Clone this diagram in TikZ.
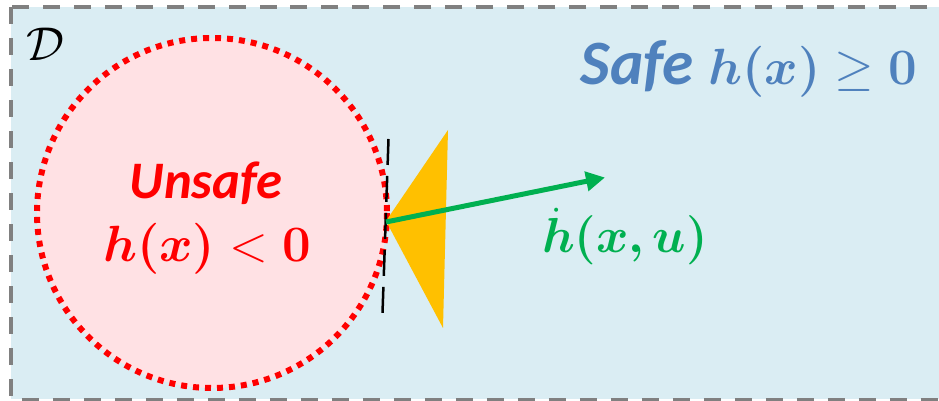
\documentclass[tikz,border=0pt]{standalone}
\usepackage{fix-cm}
\usepackage{fontspec}
\usepackage{bm}
\newfontfamily\calibri{Carlito}
\usetikzlibrary{arrows.meta}
\definecolor{skyfill}{HTML}{DAEDF3}
\definecolor{pinkfill}{HTML}{FFE1E4}
\definecolor{safeblue}{HTML}{4F81BD}
\definecolor{flowgreen}{HTML}{00B050}
\definecolor{coneyellow}{HTML}{FFC000}
\tikzset{
  domainbox/.style={fill=skyfill,draw=gray,line width=0.08cm,dash pattern=on 0.34cm off 0.28cm},
  unsafeset/.style={fill=pinkfill,draw=red,line width=0.12cm,dash pattern=on 0.12cm off 0.12cm},
  tangent/.style={draw=black,line width=0.05cm,dash pattern=on 0.52cm off 0.22cm},
  hdot/.style={draw=flowgreen,line width=0.1cm,-{Triangle[length=0.38cm,width=0.38cm]}},
}
\begin{document}
\begin{tikzpicture}[x=0.02cm,y=-0.02cm]
  \useasboundingbox (0,0) rectangle (939,401);
  \begin{scope}
    \clip (0,0) rectangle (939,401);
    \draw[domainbox] (11,7.5) rectangle (945,399.5);
  \end{scope}
  \draw[unsafeset] (212,213) circle (175);
  % cone of admissible directions
  \fill[coneyellow] (386,221) -- (448,130) -- (443,328) -- cycle;
  \draw[tangent] (388.5,139) -- (382.5,313);
  \coordinate (touch) at (386,222);
  \coordinate (tip) at (605,177.5);
  \draw[hdot] (touch) -- (tip);
  % labels
  \node (dom) at (45,44) {\fontsize{27}{30}\selectfont$\mathcal{D}$};
  \node[anchor=base,text=safeblue] (safe) at (749,85)
    {\fontsize{36}{40}\selectfont\calibri\bfseries\itshape Safe
     \fontsize{29}{32}\selectfont$\bm{h(x)}\geq\bm{0}$};
  \node[anchor=base,text=red] (unsafe) at (206,199)
    {\fontsize{30}{32}\selectfont\calibri\bfseries\itshape Unsafe};
  \node[anchor=base,text=red] (hneg) at (207,262)
    {\fontsize{29}{32}\selectfont$\bm{h(x)}<\bm{0}$};
  \node[anchor=base,text=flowgreen] (hrate) at (625,253)
    {\fontsize{28}{32}\selectfont$\bm{\dot{h}(x,u)}$};
\end{tikzpicture}
\end{document}
